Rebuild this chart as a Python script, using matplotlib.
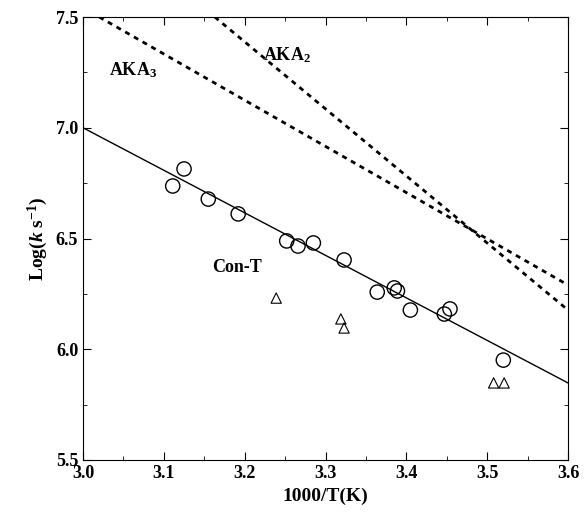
import matplotlib
matplotlib.use("Agg")
import matplotlib.pyplot as plt

plt.rcParams["font.family"] = "Liberation Serif"
plt.rcParams["mathtext.fontset"] = "custom"
plt.rcParams["mathtext.rm"] = "Liberation Serif:bold"
plt.rcParams["mathtext.it"] = "Liberation Serif:bold:italic"

# data
circ_x = [3.111, 3.125, 3.155, 3.192, 3.252, 3.266, 3.285, 3.323, 3.364, 3.385, 3.389, 3.405, 3.447, 3.454, 3.520]
circ_y = [6.737, 6.814, 6.678, 6.611, 6.489, 6.466, 6.480, 6.403, 6.258, 6.277, 6.263, 6.177, 6.159, 6.182, 5.951]
tri_x = [3.239, 3.319, 3.323, 3.508, 3.521]
tri_y = [6.231, 6.137, 6.096, 5.848, 5.848]
fit_x = [3.0, 3.6]
fit_y = [7.0, 5.848]
aka3_x = [3.02, 3.6]
aka3_y = [7.5, 6.29]
aka2_x = [3.163, 3.6]
aka2_y = [7.5, 6.177]

fig = plt.figure(figsize=(5.84, 5.17), dpi=100)
ax = fig.add_axes([83/584, 1-460/517, 485/584, 443/517])
ax.plot(fit_x, fit_y, color="black", lw=1)
ax.plot(aka3_x, aka3_y, color="black", lw=2, ls=(0, (1.8, 1.8)))
ax.plot(aka2_x, aka2_y, color="black", lw=2, ls=(0, (1.8, 1.8)))
ax.scatter(circ_x, circ_y, s=105, facecolors="none", edgecolors="black", linewidths=1)
ax.scatter(tri_x, tri_y, s=55, marker="^", facecolors="none", edgecolors="black", linewidths=0.8)

ax.text(3.032, 7.26, "AKA$_3$", fontsize=13, fontweight="bold", va="center")
ax.text(3.223, 7.33, "AKA$_2$", fontsize=13, fontweight="bold", va="center")
ax.text(3.16, 6.37, "Con-T", fontsize=13, fontweight="bold", va="center")

ax.set_xlim(3.0, 3.6)
ax.set_ylim(5.5, 7.5)
ax.set_xticks([3.0, 3.1, 3.2, 3.3, 3.4, 3.5, 3.6])
ax.set_yticks([5.5, 6.0, 6.5, 7.0, 7.5])
ax.set_xticks([3.05, 3.15, 3.25, 3.35, 3.45, 3.55], minor=True)
ax.set_yticks([5.75, 6.25, 6.75, 7.25], minor=True)
ax.tick_params(which="both", direction="in", top=True, right=True)
ax.tick_params(which="major", length=6)
ax.tick_params(which="minor", length=3)
for lab in ax.get_xticklabels() + ax.get_yticklabels():
    lab.set_fontweight("bold")
    lab.set_fontsize(13)
ax.set_xlabel("1000/T(K)", fontsize=14, fontweight="bold")
ax.set_ylabel("Log($k$ s$^{-1}$)", fontsize=14, fontweight="bold")

fig.savefig("out.png", dpi=100)
